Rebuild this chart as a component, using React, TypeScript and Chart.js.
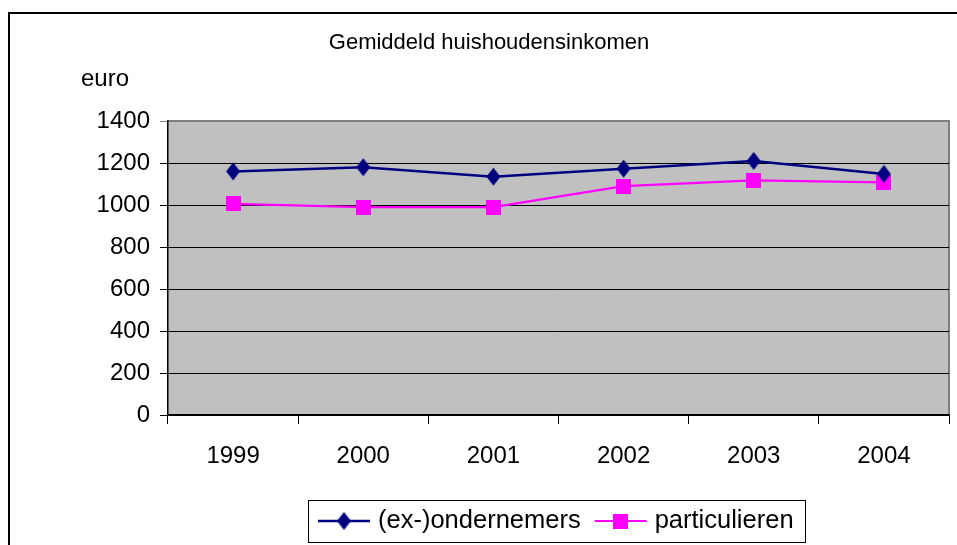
import React, { useEffect, useRef } from "react";
import { Chart, registerables } from "chart.js";

Chart.register(...registerables);

const title = "Gemiddeld huishoudensinkomen";
const yUnit = "euro";
const years = ["1999", "2000", "2001", "2002", "2003", "2004"];
const seriesNames = ["(ex-)ondernemers", "particulieren"];
const ondernemers = [1160, 1180, 1135, 1173, 1210, 1148];
const particulieren = [1005, 990, 990, 1090, 1117, 1108];
const yTicks = [0, 200, 400, 600, 800, 1000, 1200, 1400];

const FONT = "'Liberation Sans', Arial, sans-serif";
const NAVY = "#000080";
const MAGENTA = "#FF00FF";

function makeDiamond(color: string) {
  const c = document.createElement("canvas");
  c.width = 15;
  c.height = 19;
  const g = c.getContext("2d")!;
  g.fillStyle = color;
  g.beginPath();
  g.moveTo(7.5, 0.5);
  g.lineTo(14.5, 9.5);
  g.lineTo(7.5, 18.5);
  g.lineTo(0.5, 9.5);
  g.closePath();
  g.fill();
  return c;
}

function makeSquare(color: string) {
  const c = document.createElement("canvas");
  c.width = 15;
  c.height = 15;
  const g = c.getContext("2d")!;
  g.fillStyle = color;
  g.fillRect(0, 0, 15, 15);
  return c;
}

export default function App() {
  const ref = useRef<HTMLCanvasElement | null>(null);

  useEffect(() => {
    const canvas = ref.current!;
    const diamond = makeDiamond(NAVY);
    const square = makeSquare(MAGENTA);

    const deco = {
      id: "deco",
      beforeDraw(chart: any) {
        const { ctx, chartArea: a } = chart;
        ctx.save();
        ctx.fillStyle = "#ffffff";
        ctx.fillRect(0, 0, chart.width, chart.height);
        // outer frame
        ctx.strokeStyle = "#000";
        ctx.lineWidth = 2;
        ctx.beginPath();
        ctx.moveTo(9, 560);
        ctx.lineTo(9, 13);
        ctx.lineTo(970, 13);
        ctx.stroke();
        // plot background
        ctx.fillStyle = "#C0C0C0";
        ctx.fillRect(a.left, a.top, a.right - a.left, a.bottom - a.top);
        ctx.strokeStyle = "#808080";
        ctx.lineWidth = 2;
        ctx.beginPath();
        ctx.moveTo(a.left, a.top);
        ctx.lineTo(a.right, a.top);
        ctx.lineTo(a.right, a.bottom);
        ctx.stroke();
        // title and unit
        ctx.fillStyle = "#000";
        ctx.textBaseline = "middle";
        ctx.textAlign = "center";
        ctx.font = `22px ${FONT}`;
        ctx.fillText(title, 489, 43);
        ctx.textAlign = "left";
        ctx.font = `24px ${FONT}`;
        ctx.fillText(yUnit, 81, 79);
        ctx.restore();
      },
      afterDraw(chart: any) {
        const { ctx } = chart;
        ctx.save();
        ctx.strokeStyle = "#000";
        ctx.lineWidth = 1;
        ctx.strokeRect(308.5, 500.5, 497, 42);
        ctx.font = `25.5px ${FONT}`;
        ctx.textBaseline = "middle";
        ctx.textAlign = "left";
        let x = 318;
        const cy = 521;
        chart.data.datasets.forEach((ds: any) => {
          ctx.strokeStyle = ds.borderColor;
          ctx.lineWidth = ds.borderWidth;
          ctx.beginPath();
          ctx.moveTo(x, cy);
          ctx.lineTo(x + 52, cy);
          ctx.stroke();
          const img = ds.pointStyle as HTMLCanvasElement;
          ctx.drawImage(img, x + 26 - img.width / 2, cy - img.height / 2);
          ctx.fillStyle = "#000";
          ctx.fillText(ds.label, x + 60, cy);
          x += 60 + ctx.measureText(ds.label).width + 14;
        });
        ctx.restore();
      },
    };

    const chart = new Chart(canvas, {
      type: "line",
      data: {
        labels: years,
        datasets: [
          {
            label: seriesNames[0],
            data: ondernemers,
            borderColor: NAVY,
            backgroundColor: NAVY,
            borderWidth: 2.5,
            pointStyle: diamond as any,
            tension: 0,
          },
          {
            label: seriesNames[1],
            data: particulieren,
            borderColor: MAGENTA,
            backgroundColor: MAGENTA,
            borderWidth: 2.2,
            pointStyle: square as any,
            tension: 0,
          },
        ],
      },
      options: {
        responsive: false,
        animation: false,
        devicePixelRatio: 1,
        layout: { padding: { top: 121, right: 8, left: 0, bottom: 0 } },
        plugins: {
          legend: { display: false },
          title: { display: false },
          tooltip: { enabled: false },
        },
        scales: {
          x: {
            type: "category",
            offset: true,
            afterFit: (s: any) => {
              s.height = 130;
            },
            grid: {
              offset: true,
              drawOnChartArea: false,
              drawTicks: true,
              tickLength: 9,
              color: "#000",
              lineWidth: 1,
            },
            border: { display: true, color: "#000", width: 1.5 },
            ticks: {
              color: "#000",
              font: { family: FONT, size: 24 },
              padding: 18,
              maxRotation: 0,
            },
          },
          y: {
            min: 0,
            max: 1400,
            afterFit: (s: any) => {
              s.width = 168;
            },
            afterBuildTicks: (s: any) => {
              s.ticks = yTicks.map((v) => ({ value: v }));
            },
            grid: {
              color: (c: any) => (c.tick && c.tick.value === 1400 ? "#808080" : "#000"),
              lineWidth: 1,
              drawTicks: true,
              tickLength: 8,
            },
            border: { display: true, color: "#000", width: 1.5 },
            ticks: {
              color: "#000",
              font: { family: FONT, size: 24 },
              padding: 10,
              callback: (v: any) => String(v),
            },
          },
        },
      },
      plugins: [deco],
    });
    return () => chart.destroy();
  }, []);

  return (
    <div style={{ position: "absolute", left: 0, top: 0, width: 957, height: 545, background: "#fff" }}>
      <canvas ref={ref} width={957} height={545} style={{ display: "block" }} />
    </div>
  );
}
